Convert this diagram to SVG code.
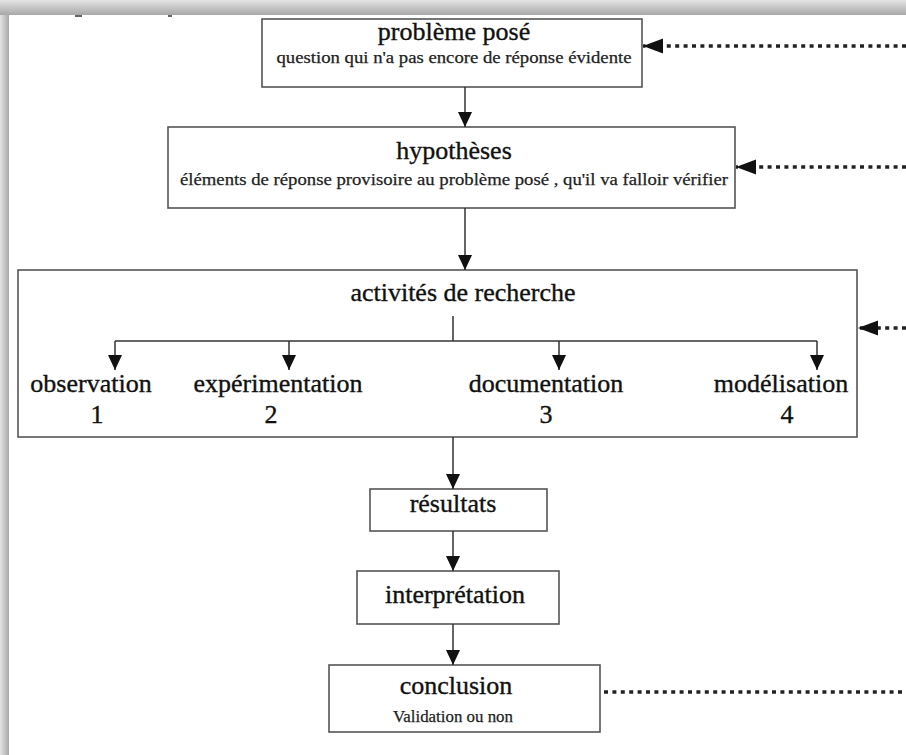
<svg xmlns="http://www.w3.org/2000/svg" width="906" height="755" viewBox="0 0 906 755">
<defs>
<linearGradient id="gTop" x1="0" y1="0" x2="0" y2="1"><stop offset="0" stop-color="#e4e4e4"/><stop offset="1" stop-color="#a8a8a8"/></linearGradient>
<linearGradient id="gLeft" x1="0" y1="0" x2="1" y2="0"><stop offset="0" stop-color="#e4e4e4"/><stop offset="1" stop-color="#a8a8a8"/></linearGradient>
<marker id="arr" markerUnits="userSpaceOnUse" markerWidth="15" markerHeight="14" refX="15" refY="7" orient="auto"><path d="M0,0 L15,7 L0,14 Z" fill="#111"/></marker>
<marker id="arrBig" markerUnits="userSpaceOnUse" markerWidth="20" markerHeight="16" refX="20" refY="8" orient="auto"><path d="M0,0.5 L20,8 L0,15.5 Z" fill="#111"/></marker>
</defs>
<style>
.box{fill:#fff;stroke:#555;stroke-width:1.6}
.t{font-family:"Liberation Serif","Times New Roman",serif;fill:#111;text-anchor:middle;stroke:#111;stroke-width:0.35}
.big{font-size:26px}
.sub{font-size:17px;fill:#222;stroke:#222;stroke-width:0.25}
.ln{fill:none;stroke:#333;stroke-width:1.5}
.dot{fill:none;stroke:#222;stroke-width:3.5;stroke-dasharray:4 4.4}
</style>
<rect x="0" y="0" width="906" height="755" fill="#fff"/>
<rect x="0" y="0" width="906" height="15" fill="url(#gTop)"/>
<rect x="0" y="15" width="9" height="740" fill="url(#gLeft)"/>
<rect x="75" y="15" width="7" height="2" fill="#666"/>
<rect x="168" y="15" width="4" height="2" fill="#666"/>

<g id="probleme">
<rect class="box" x="262" y="19" width="380" height="68"/>
<text class="t big" x="454" y="40">problème posé</text>
<text class="t sub" x="454" y="63" textLength="355" lengthAdjust="spacingAndGlyphs">question qui n'a pas encore de réponse évidente</text>
</g>

<g id="hypotheses">
<rect class="box" x="168" y="127" width="567" height="81"/>
<text class="t big" x="454" y="159">hypothèses</text>
<text class="t sub" x="454" y="185" textLength="548" lengthAdjust="spacingAndGlyphs">éléments de réponse provisoire au problème posé , qu'il va falloir vérifier</text>
</g>

<g id="activites">
<rect class="box" x="18" y="270" width="839" height="167"/>
<text class="t big" x="463" y="301">activités de recherche</text>
</g>

<g id="observation">
<text class="t big" x="91" y="392">observation</text>
<text class="t big" x="97" y="423">1</text>
</g>
<g id="experimentation">
<text class="t big" x="278" y="392">expérimentation</text>
<text class="t big" x="271" y="423">2</text>
</g>
<g id="documentation">
<text class="t big" x="546" y="392">documentation</text>
<text class="t big" x="546" y="423">3</text>
</g>
<g id="modelisation">
<text class="t big" x="781" y="392">modélisation</text>
<text class="t big" x="787" y="423">4</text>
</g>

<g id="resultats">
<rect class="box" x="370" y="489" width="177" height="42"/>
<text class="t big" x="453" y="512">résultats</text>
</g>

<g id="interpretation">
<rect class="box" x="357" y="571" width="202" height="53"/>
<text class="t big" x="455" y="603">interprétation</text>
</g>

<g id="conclusion">
<rect class="box" x="329" y="665" width="271" height="67"/>
<text class="t big" x="456" y="694">conclusion</text>
<text class="t sub" x="453" y="722" textLength="120" lengthAdjust="spacingAndGlyphs">Validation ou non</text>
</g>

<g id="connectors">
<path class="ln" d="M465,87 V127" marker-end="url(#arr)"/>
<path class="ln" d="M465,208 V270" marker-end="url(#arr)"/>
<path class="ln" d="M453,316 V341"/>
<path class="ln" d="M115,341 H817"/>
<path class="ln" d="M115,341 V370" marker-end="url(#arr)"/>
<path class="ln" d="M289,341 V370" marker-end="url(#arr)"/>
<path class="ln" d="M559,341 V370" marker-end="url(#arr)"/>
<path class="ln" d="M817,341 V370" marker-end="url(#arr)"/>
<path class="ln" d="M453,437 V489" marker-end="url(#arr)"/>
<path class="ln" d="M453,531 V571" marker-end="url(#arr)"/>
<path class="ln" d="M453,624 V665" marker-end="url(#arr)"/>
<path class="dot" d="M906,46 H643" marker-end="url(#arrBig)"/>
<path class="dot" d="M906,167 H736" marker-end="url(#arrBig)"/>
<path class="dot" d="M906,328 H858" marker-end="url(#arrBig)"/>
<path class="dot" d="M604,692 H906"/>
</g>
</svg>
